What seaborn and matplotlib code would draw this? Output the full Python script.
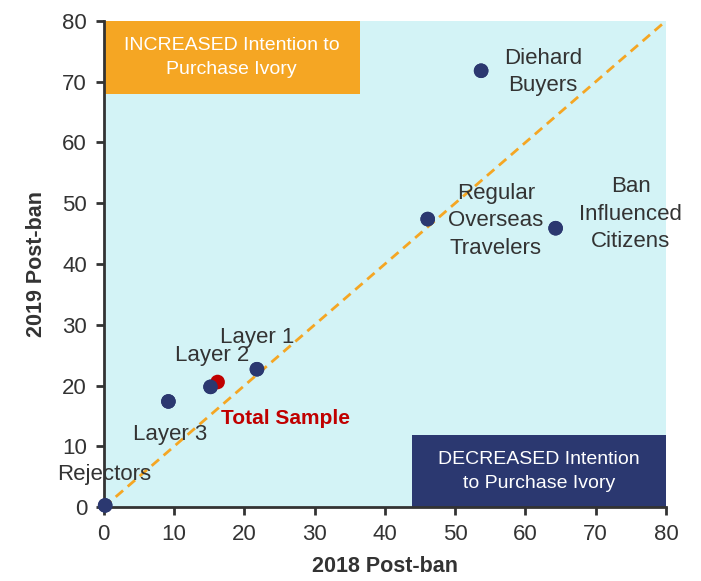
import matplotlib
matplotlib.use("Agg")
import matplotlib.pyplot as plt
import seaborn as sns
import pandas as pd
from matplotlib import font_manager

segments = ["Diehard Buyers", "Regular Overseas Travelers", "Ban Influenced Citizens",
            "Layer 1", "Layer 2", "Total Sample", "Layer 3", "Rejectors"]
post_2018 = [53.7, 46.1, 64.3, 21.8, 15.2, 16.2, 9.2, 0.2]
post_2019 = [71.8, 47.4, 45.9, 22.7, 19.8, 20.6, 17.4, 0.3]
group = ["seg", "seg", "seg", "seg", "seg", "total", "seg", "seg"]
labels = ["Diehard\nBuyers", "Regular\nOverseas\nTravelers", "Ban\nInfluenced\nCitizens",
          "Layer 1", "Layer 2", "Total Sample", "Layer 3", "Rejectors"]
label_x = [62.5, 55.8, 75.0, 21.8, 15.4, 25.9, 9.4, 0.0]
label_y = [71.6, 47.1, 48.2, 28.0, 24.9, 14.6, 11.9, 5.3]
x_ticks = [0, 10, 20, 30, 40, 50, 60, 70, 80]
y_ticks = [0, 10, 20, 30, 40, 50, 60, 70, 80]

df = pd.DataFrame({"x": post_2018, "y": post_2019, "group": group, "segment": segments})

sns.set_theme(style="ticks")
avail = {f.name for f in font_manager.fontManager.ttflist}
base_font = "Liberation Sans" if "Liberation Sans" in avail else "DejaVu Sans"
narrow_font = "Liberation Sans Narrow" if "Liberation Sans Narrow" in avail else base_font
plt.rcParams["font.family"] = [base_font, "DejaVu Sans"]

NAVY = "#2B3870"
ORANGE = "#F5A623"
CYAN = "#D3F3F6"
RED = "#C00000"
TXT = "#333333"

fig = plt.figure(figsize=(7.01, 5.81), dpi=100)
ax = fig.add_axes([0.148, 0.127, 0.802, 0.837])
ax.set_facecolor(CYAN)

ax.plot([0, 80], [0, 80], linestyle=(0, (3.5, 2.2)), color=ORANGE, lw=2, zorder=2)

sns.scatterplot(data=df, x="x", y="y", hue="group", palette={"seg": NAVY, "total": RED},
                hue_order=["total", "seg"], s=110, edgecolor="none", legend=False,
                ax=ax, zorder=3, clip_on=False)
# draw segment points over the total sample point, as in the reference
seg_df = df[df["group"] == "seg"]
sns.scatterplot(data=seg_df, x="x", y="y", color=NAVY, s=110, edgecolor="none",
                legend=False, ax=ax, zorder=4, clip_on=False)

for lab, lx, ly, g in zip(labels, label_x, label_y, group):
    if g == "total":
        ax.text(lx, ly, lab, color=RED, fontsize=15, ha="center", va="center",
                fontweight="bold", family=[narrow_font, "DejaVu Sans"], zorder=5)
    else:
        ax.text(lx, ly, lab, color=TXT, fontsize=16, ha="center", va="center",
                linespacing=1.4, zorder=5)

# quadrant boxes
ax.add_patch(plt.Rectangle((0, 68), 36.4, 12, color=ORANGE, zorder=1.5, lw=0))
ax.text(18.2, 74, "INCREASED Intention to\nPurchase Ivory", color="white", fontsize=14,
        ha="center", va="center", family=[narrow_font, "DejaVu Sans"], linespacing=1.5, zorder=5)
ax.add_patch(plt.Rectangle((43.8, 0), 36.2, 11.9, color=NAVY, zorder=1.5, lw=0))
ax.text(61.9, 5.9, "DECREASED Intention\nto Purchase Ivory", color="white", fontsize=14,
        ha="center", va="center", family=[narrow_font, "DejaVu Sans"], linespacing=1.5, zorder=5)

ax.set_xlim(0, 80)
ax.set_ylim(0, 80)
ax.set_xticks(x_ticks)
ax.set_yticks(y_ticks)
ax.tick_params(axis="both", labelsize=16, colors=TXT, length=6, width=2, direction="out", pad=6)
for s in ["top", "right"]:
    ax.spines[s].set_visible(False)
for s in ["left", "bottom"]:
    ax.spines[s].set_linewidth(2)
    ax.spines[s].set_color("#333333")
ax.set_xlabel("2018 Post-ban", fontsize=15.5, fontweight="bold", color=TXT,
              family=[narrow_font, "DejaVu Sans"], labelpad=8)
ax.set_ylabel("2019 Post-ban", fontsize=15.5, fontweight="bold", color=TXT,
              family=[narrow_font, "DejaVu Sans"], labelpad=11)

fig.savefig("out.png", dpi=100, facecolor="white")
